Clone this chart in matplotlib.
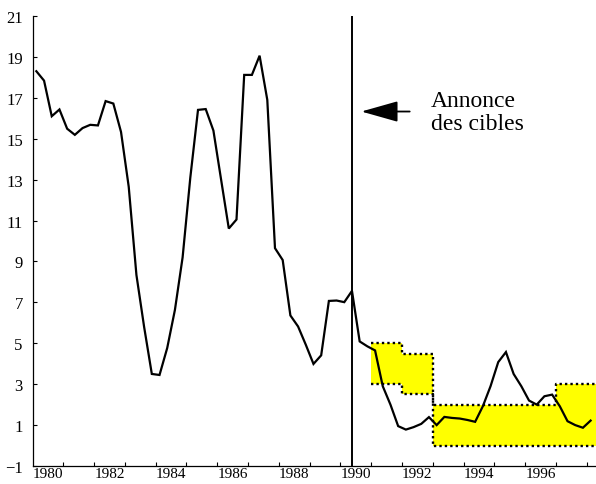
import matplotlib
matplotlib.use("Agg")
import matplotlib.pyplot as plt
from matplotlib.patches import ArrowStyle
import numpy as np

# Quarterly inflation (%), 1980Q1 .. 1998Q1
inflation = [18.30, 17.84, 16.10, 16.43, 15.49, 15.19, 15.52, 15.68, 15.65, 16.84,
             16.72, 15.33, 12.65, 8.34, 5.80, 3.50, 3.45, 4.77, 6.63, 9.20,
             13.10, 16.41, 16.45, 15.40, 13.00, 10.61, 11.05, 18.12, 18.12, 19.06,
             16.90, 9.65, 9.07, 6.36, 5.82, 4.93, 3.99, 4.41, 7.07, 7.09,
             7.01, 7.56, 5.09, 4.85, 4.65, 2.90, 2.00, 0.95, 0.78, 0.90,
             1.06, 1.39, 1.00, 1.40, 1.35, 1.32, 1.25, 1.16, 1.92, 2.90,
             4.08, 4.57, 3.50, 2.90, 2.20, 2.00, 2.41, 2.49, 1.92, 1.19,
             1.00, 0.87, 1.22]
start_year = 1980
quarter_pos = [start_year + (i + 0.5) / 4 for i in range(len(inflation))]

# Inflation target bands
band_edges = [1991, 1992, 1993, 1997, 1998.3]
band_low = [3.0, 2.5, 0.0, 0.0]
band_high = [5.0, 4.5, 2.0, 3.0]

announce_year = 1990.375
annotation = "Annonce\ndes cibles"

year_ticks = list(range(1981, 1999))
year_labels = [str(y) for y in range(1980, 1998, 2)]
y_ticks = list(range(-1, 22, 2))

plt.rcParams['font.family'] = ['Liberation Serif', 'DejaVu Serif']

fig = plt.figure(figsize=(5.96, 4.85), dpi=100)
W, H = 596, 485
ax = fig.add_axes([32.5 / W, 1 - 467 / H, (596 - 32.5) / W, (467 - 17) / H])
ax.set_xlim(1980, 1998.3)
ax.set_ylim(-1, 21)

# bands
lo = band_low + [band_low[-1]]
hi = band_high + [band_high[-1]]
ax.fill_between(band_edges, lo, hi, step='post', color='#FFFF00', lw=0, zorder=1)
dot = dict(color='black', lw=1.7, linestyle=(0, (1, 1.3)), dash_capstyle='butt', zorder=2)
ax.step(band_edges, hi, where='post', **dot)
ax.step(band_edges, lo, where='post', **dot)

# series
ax.plot(quarter_pos, inflation, color='black', lw=1.6, zorder=4, solid_joinstyle='miter')

# announcement line
ax.axvline(announce_year, color='black', lw=1.4, zorder=3)

ax.annotate('', xy=(1990.68, 16.33), xytext=(1992.25, 16.33),
            arrowprops=dict(arrowstyle=ArrowStyle('-|>', head_length=2.3, head_width=0.65),
                            mutation_scale=10, color='black', lw=1.3,
                            shrinkA=0, shrinkB=0))
ax.text(1992.93, 16.3, annotation, fontsize=17, ha='left', va='center',
        linespacing=1.1)

# axes styling
for s in ['top', 'right']:
    ax.spines[s].set_visible(False)
for s in ['left', 'bottom']:
    ax.spines[s].set_linewidth(0.9)

ax.set_xticks(year_ticks)
ax.set_xticklabels([])
ax.set_xticks([int(y) + 0.5 for y in year_labels], minor=True)
ax.set_xticklabels(year_labels, minor=True)
ax.tick_params(axis='x', which='major', direction='in', length=3, width=0.8)
ax.tick_params(axis='x', which='minor', length=0, pad=1, labelsize=11)

ax.set_yticks(y_ticks)
ax.set_yticklabels([str(v).replace('-', '\u2212') for v in y_ticks])
ax.tick_params(axis='y', direction='in', length=3, width=0.8, pad=7, labelsize=12)

fig.savefig('out.png', dpi=100)
